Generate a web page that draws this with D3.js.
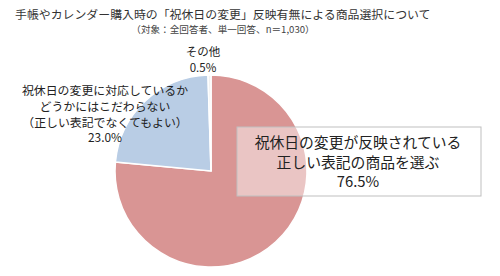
<!DOCTYPE html>
<html>
<head>
<meta charset="utf-8">
<script src="https://cdn.jsdelivr.net/npm/d3@7"></script>
<style>
  body { margin: 0; background: #fff; }
  svg { display: block; font-family: "Noto Sans CJK JP", "Noto Sans", sans-serif; }
</style>
</head>
<body>
<svg width="500" height="276"></svg>
<script>
let categories = ["祝休日の変更が反映されている正しい表記の商品を選ぶ", "祝休日の変更に対応しているかどうかにはこだわらない（正しい表記でなくてもよい）", "その他"];
let values = [76.5, 23.0, 0.5];
let labelLines = [
  ["祝休日の変更が反映されている", "正しい表記の商品を選ぶ"],
  ["祝休日の変更に対応しているか", "どうかにはこだわらない", "（正しい表記でなくてもよい）"],
  ["その他"]
];
let colors = ["#d99594", "#b9cde5", "#f2f2f2"];

let svg = d3.select("svg"),
  width = +svg.attr("width"),
  height = +svg.attr("height");

let format = d3.format(".1f");

// title
svg.append("text")
  .attr("x", 15).attr("y", 19)
  .attr("font-size", 11.9)
  .attr("fill", "#333")
  .text("手帳やカレンダー購入時の「祝休日の変更」反映有無による商品選択について");

svg.append("text")
  .attr("x", 223).attr("y", 33)
  .attr("text-anchor", "middle")
  .attr("font-size", 9.6)
  .attr("fill", "#444")
  .text("（対象：全回答者、単一回答、n＝1,030）");

let cx = 211, cy = 171, r = 96;

let pie = d3.pie().sort(null).value(d => d);
let arc = d3.arc().innerRadius(0).outerRadius(r);

let g = svg.append("g").attr("transform", "translate(" + cx + "," + cy + ")");

g.selectAll("path")
  .data(pie(values))
  .enter().append("path")
  .attr("d", arc)
  .attr("fill", (d, i) => colors[i])
  .attr("stroke", "#fff")
  .attr("stroke-width", 1.5);

// labels (placed by hand like the original)
let labelPos = [
  { x: 358, y: 148, size: 14.8, step: 19.5 },
  { x: 105, y: 95, size: 11.9, step: 15.8 },
  { x: 203, y: 56, size: 11.5, step: 16 }
];

// box behind the main label
svg.append("rect")
  .attr("x", 237).attr("y", 127)
  .attr("width", 244).attr("height", 69)
  .attr("fill", "#fff").attr("fill-opacity", 0.45)
  .attr("stroke", "#bfbfbf").attr("stroke-width", 1);

labelPos.forEach((p, i) => {
  let lines = labelLines[i].concat(format(values[i]) + "%");
  let t = svg.append("text")
    .attr("text-anchor", "middle")
    .attr("font-size", p.size)
    .attr("fill", "#222");
  t.selectAll("tspan")
    .data(lines)
    .enter().append("tspan")
    .attr("x", p.x)
    .attr("y", (d, j) => p.y + j * p.step)
    .text(d => d);
});
</script>
</body>
</html>
